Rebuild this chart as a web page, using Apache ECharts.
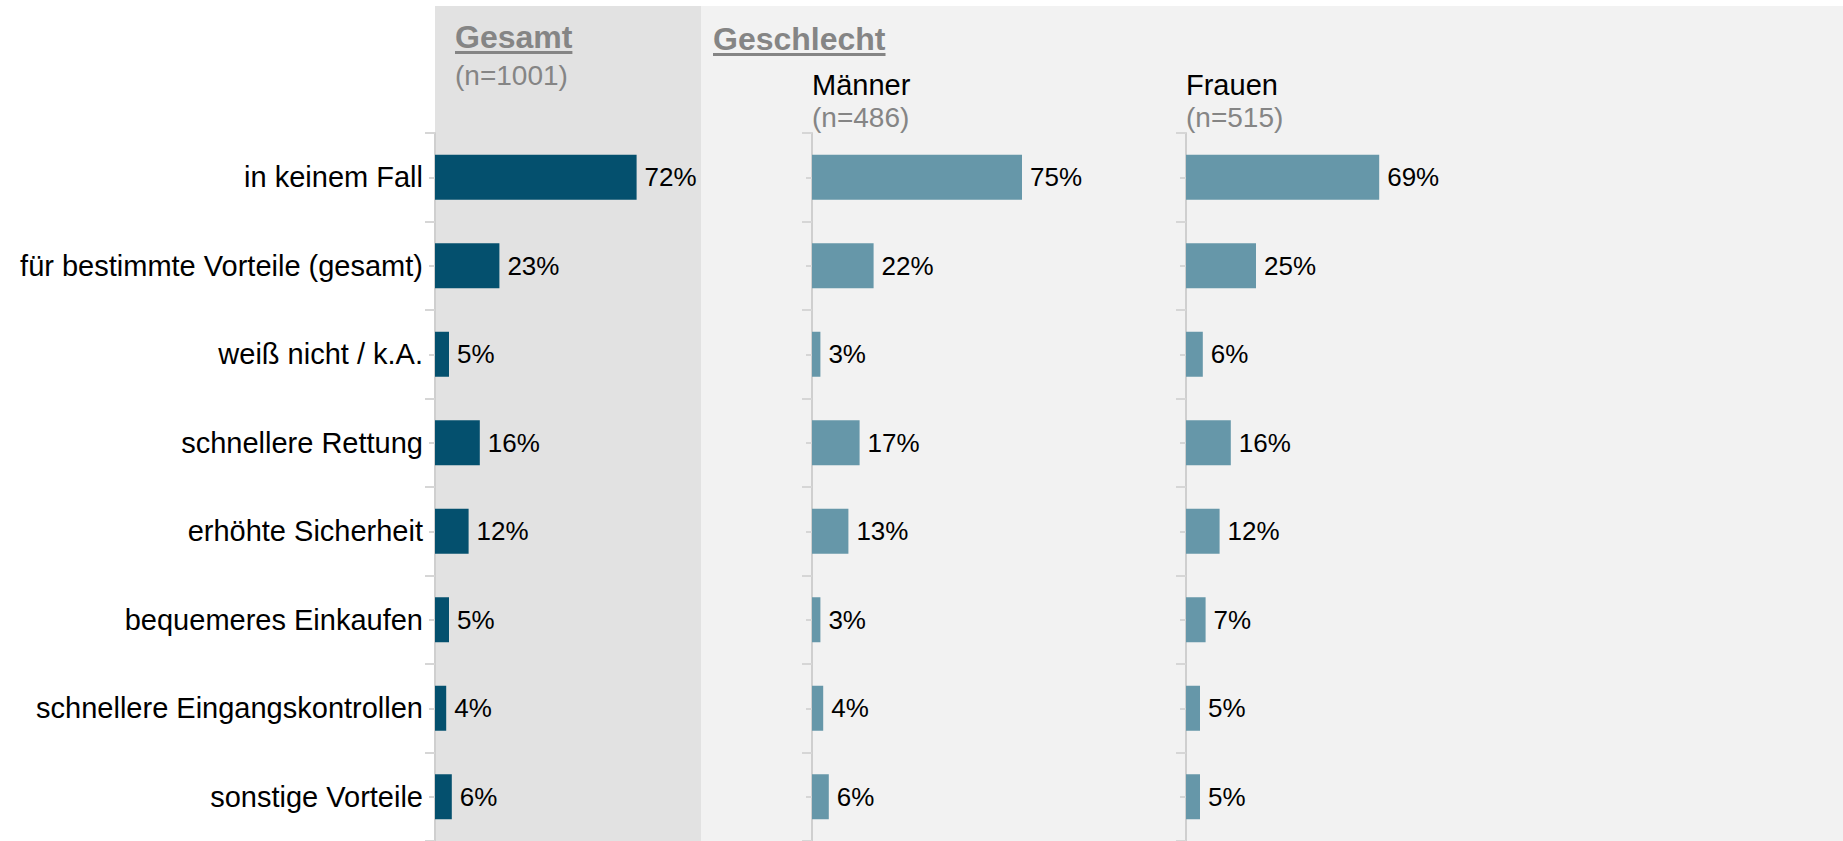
<!DOCTYPE html>
<html>
<head>
<meta charset="utf-8">
<title>Vorteile</title>
<script src="https://cdn.jsdelivr.net/npm/echarts@6/dist/echarts.min.js"></script>
<style>
	html, body { margin: 0; padding: 0; background: #fff; }
	#chart { width: 1843px; height: 841px; }
</style>
</head>
<body>
<div id="chart"></div>
<script>
	const categories = [
		'in keinem Fall',
		'für bestimmte Vorteile (gesamt)',
		'weiß nicht / k.A.',
		'schnellere Rettung',
		'erhöhte Sicherheit',
		'bequemeres Einkaufen',
		'schnellere Eingangskontrollen',
		'sonstige Vorteile',
	]
	const gesamt = [72, 23, 5, 16, 12, 5, 4, 6]
	const maenner = [75, 22, 3, 17, 13, 3, 4, 6]
	const frauen = [69, 25, 6, 16, 12, 7, 5, 5]
	const groupTitles = ['Gesamt', 'Geschlecht']
	const columnTitles = ['Männer', 'Frauen']
	const sampleSizes = ['(n=1001)', '(n=486)', '(n=515)']

	const FONT = '"Liberation Sans", Arial, sans-serif'
	const GREY = '#858585'
	const gridLefts = [435, 812, 1186]
	const barColors = ['#04506e', '#6697a9', '#6697a9']
	const seriesData = [gesamt, maenner, frauen]

	const chart = echarts.init(document.getElementById('chart'), null, { renderer: 'svg' })

	// measure text so the underline fits the group title
	const ctx = document.createElement('canvas').getContext('2d')
	function textWidth(text, font) {
		ctx.font = font
		return ctx.measureText(text).width
	}

	let grids = [], xAxes = [], yAxes = [], series = []
	gridLefts.forEach((left, i) => {
		grids.push({ left: left, top: 133, width: 280, height: 712 })
		xAxes.push({ gridIndex: i, type: 'value', min: 0, max: 100, show: false })
		// axis line + ticks between the bands (labels only on the first panel)
		yAxes.push({
			gridIndex: i,
			type: 'category',
			data: categories,
			inverse: true,
			position: 'left',
			axisLine: { show: true, lineStyle: { color: '#cfcfcf', width: 2 } },
			axisTick: { show: true, alignWithLabel: false, length: 10, lineStyle: { color: '#d6d6d6', width: 2 } },
			axisLabel: { show: i === 0, margin: 12, color: '#000', fontSize: 29, fontFamily: FONT },
			splitLine: { show: false },
		})
		// short ticks at the middle of each band
		yAxes.push({
			gridIndex: i,
			type: 'category',
			data: categories,
			inverse: true,
			position: 'left',
			axisLine: { show: false },
			axisTick: { show: true, alignWithLabel: true, length: 6, lineStyle: { color: '#d6d6d6', width: 2 } },
			axisLabel: { show: false },
			splitLine: { show: false },
		})
		series.push({
			type: 'bar',
			xAxisIndex: i,
			yAxisIndex: 2 * i,
			data: seriesData[i],
			barWidth: 45,
			itemStyle: { color: barColors[i] },
			label: {
				show: true,
				position: 'right',
				distance: 8,
				formatter: '{c}%',
				color: '#000',
				fontSize: 26,
				fontFamily: FONT,
			},
		})
	})

	const titleFont = 'bold 32px ' + FONT
	let graphics = [
		{ type: 'rect', z: -10, shape: { x: 435, y: 6, width: 266, height: 835 }, style: { fill: '#e2e2e2' } },
		{ type: 'rect', z: -10, shape: { x: 701, y: 6, width: 1142, height: 835 }, style: { fill: '#f2f2f2' } },
	]
	const titlePos = [[455, 37], [713, 39]]
	groupTitles.forEach((t, i) => {
		graphics.push({
			type: 'text',
			style: { text: t, x: titlePos[i][0], y: titlePos[i][1], font: titleFont, fill: GREY, verticalAlign: 'middle' },
		})
		graphics.push({
			type: 'rect',
			shape: { x: titlePos[i][0], y: titlePos[i][1] + 14, width: textWidth(t, titleFont), height: 3 },
			style: { fill: GREY },
		})
	})
	columnTitles.forEach((t, i) => {
		graphics.push({
			type: 'text',
			style: { text: t, x: gridLefts[i + 1], y: 85, font: '29px ' + FONT, fill: '#000', verticalAlign: 'middle' },
		})
	})
	const nPos = [[455, 75], [812, 117], [1186, 117]]
	sampleSizes.forEach((t, i) => {
		graphics.push({
			type: 'text',
			style: { text: t, x: nPos[i][0], y: nPos[i][1], font: '28px ' + FONT, fill: GREY, verticalAlign: 'middle' },
		})
	})

	chart.setOption({
		animation: false,
		grid: grids,
		xAxis: xAxes,
		yAxis: yAxes,
		series: series,
		graphic: graphics,
	})
</script>
</body>
</html>
